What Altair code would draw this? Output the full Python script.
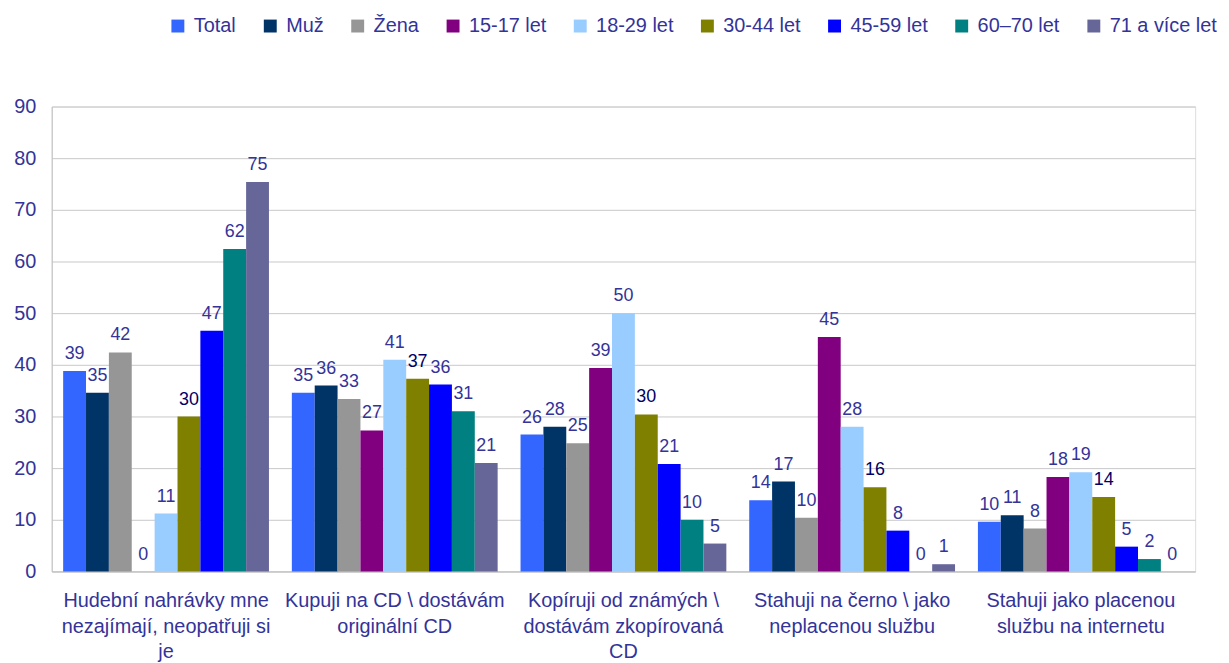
import json
import altair as alt
import pandas as pd

categories = [
    "Hudební nahrávky mne nezajímají, neopatřuji si je",
    "Kupuji na CD \\ dostávám originální CD",
    "Kopíruji od známých \\ dostávám zkopírovaná CD",
    "Stahuji na černo \\ jako neplacenou službu",
    "Stahuji jako placenou službu na internetu",
]
category_lines = [
    ["Hudební nahrávky mne", "nezajímají, neopatřuji si", "je"],
    ["Kupuji na CD \\ dostávám", "originální CD"],
    ["Kopíruji od známých \\", "dostávám zkopírovaná", "CD"],
    ["Stahuji na černo \\ jako", "neplacenou službu"],
    ["Stahuji jako placenou", "službu na internetu"],
]

series = ["Total", "Muž", "Žena", "15-17 let", "18-29 let", "30-44 let",
          "45-59 let", "60–70 let", "71 a více let"]
colors = ["#3366FF", "#003366", "#969696", "#800080", "#99CCFF", "#808000",
          "#0000FF", "#008080", "#666699"]

total = [38.8, 34.6, 26.5, 13.8, 9.6]
muz = [34.6, 36.0, 28.0, 17.4, 10.9]
zena = [42.4, 33.4, 24.8, 10.4, 8.3]
age_15_17 = [0, 27.3, 39.4, 45.4, 18.3]
age_18_29 = [11.2, 41.0, 50.0, 28.0, 19.2]
age_30_44 = [30.0, 37.3, 30.4, 16.3, 14.4]
age_45_59 = [46.6, 36.2, 20.8, 7.9, 4.8]
age_60_70 = [62.4, 31.0, 10.0, 0, 2.4]
age_71 = [75.4, 21.0, 5.4, 1.4, 0]

all_series = [total, muz, zena, age_15_17, age_18_29, age_30_44,
              age_45_59, age_60_70, age_71]

rows = []
for s, vals in zip(series, all_series):
    for c, v in zip(categories, vals):
        rows.append({"cat": c, "series": s, "value": v,
                     "label": str(int(round(v)))})
df = pd.DataFrame(rows)

# multi-line axis labels
expr = "null"
for c, lines in reversed(list(zip(categories, category_lines))):
    expr = f"datum.label == {json.dumps(c)} ? {json.dumps(lines)} : ({expr})"

FONT = "Liberation Sans"
TXT = "#333399"

x_enc = alt.X("cat:N", sort=categories, title=None,
              scale=alt.Scale(paddingInner=0.1, paddingOuter=0.05),
              axis=alt.Axis(labelExpr=expr, labelAngle=0, labelFontSize=20,
                            labelColor=TXT, labelFont=FONT, ticks=False,
                            domainColor="#C0C0C0", labelPadding=29,
                            labelLineHeight=26, labelBaseline="middle",
                            labelLimit=300))
xo = alt.XOffset("series:N", sort=series, scale=alt.Scale(paddingInner=0))

bars = alt.Chart(df).mark_bar(size=23).encode(
    x=x_enc,
    xOffset=xo,
    y=alt.Y("value:Q", title=None,
            scale=alt.Scale(domain=[0, 90]),
            axis=alt.Axis(values=list(range(0, 91, 10)), labelFontSize=20,
                          labelColor=TXT, labelFont=FONT, ticks=False,
                          labelPadding=16, gridColor="#C8C8C8",
                          domainColor="#C0C0C0")),
    color=alt.Color("series:N", sort=series,
                    scale=alt.Scale(domain=series, range=colors),
                    legend=alt.Legend(title=None, orient="none",
                                      direction="horizontal",
                                      legendX=117, legendY=-91,
                                      symbolType="square", symbolSize=169,
                                      symbolStrokeWidth=0,
                                      labelFontSize=20, labelColor=TXT,
                                      labelFont=FONT, columnPadding=24,
                                      labelOffset=6)),
)

labels = alt.Chart(df).mark_text(baseline="bottom", dy=-8, fontSize=18,
                                 font=FONT).encode(
    x=alt.X("cat:N", sort=categories),
    xOffset=xo,
    y="value:Q",
    text="label:N",
    color=alt.condition(alt.datum.series == "30-44 let",
                        alt.value("#000066"), alt.value(TXT)),
)

chart = alt.layer(bars, labels).properties(
    width=1151, height=468,
    padding={"left": 44, "top": 97, "right": 26, "bottom": 90},
    autosize="none",
).configure_view(stroke="#C0C0C0", strokeWidth=1).configure(background="white")

chart.save("out.html", embed_options={"renderer": "svg", "actions": False})
